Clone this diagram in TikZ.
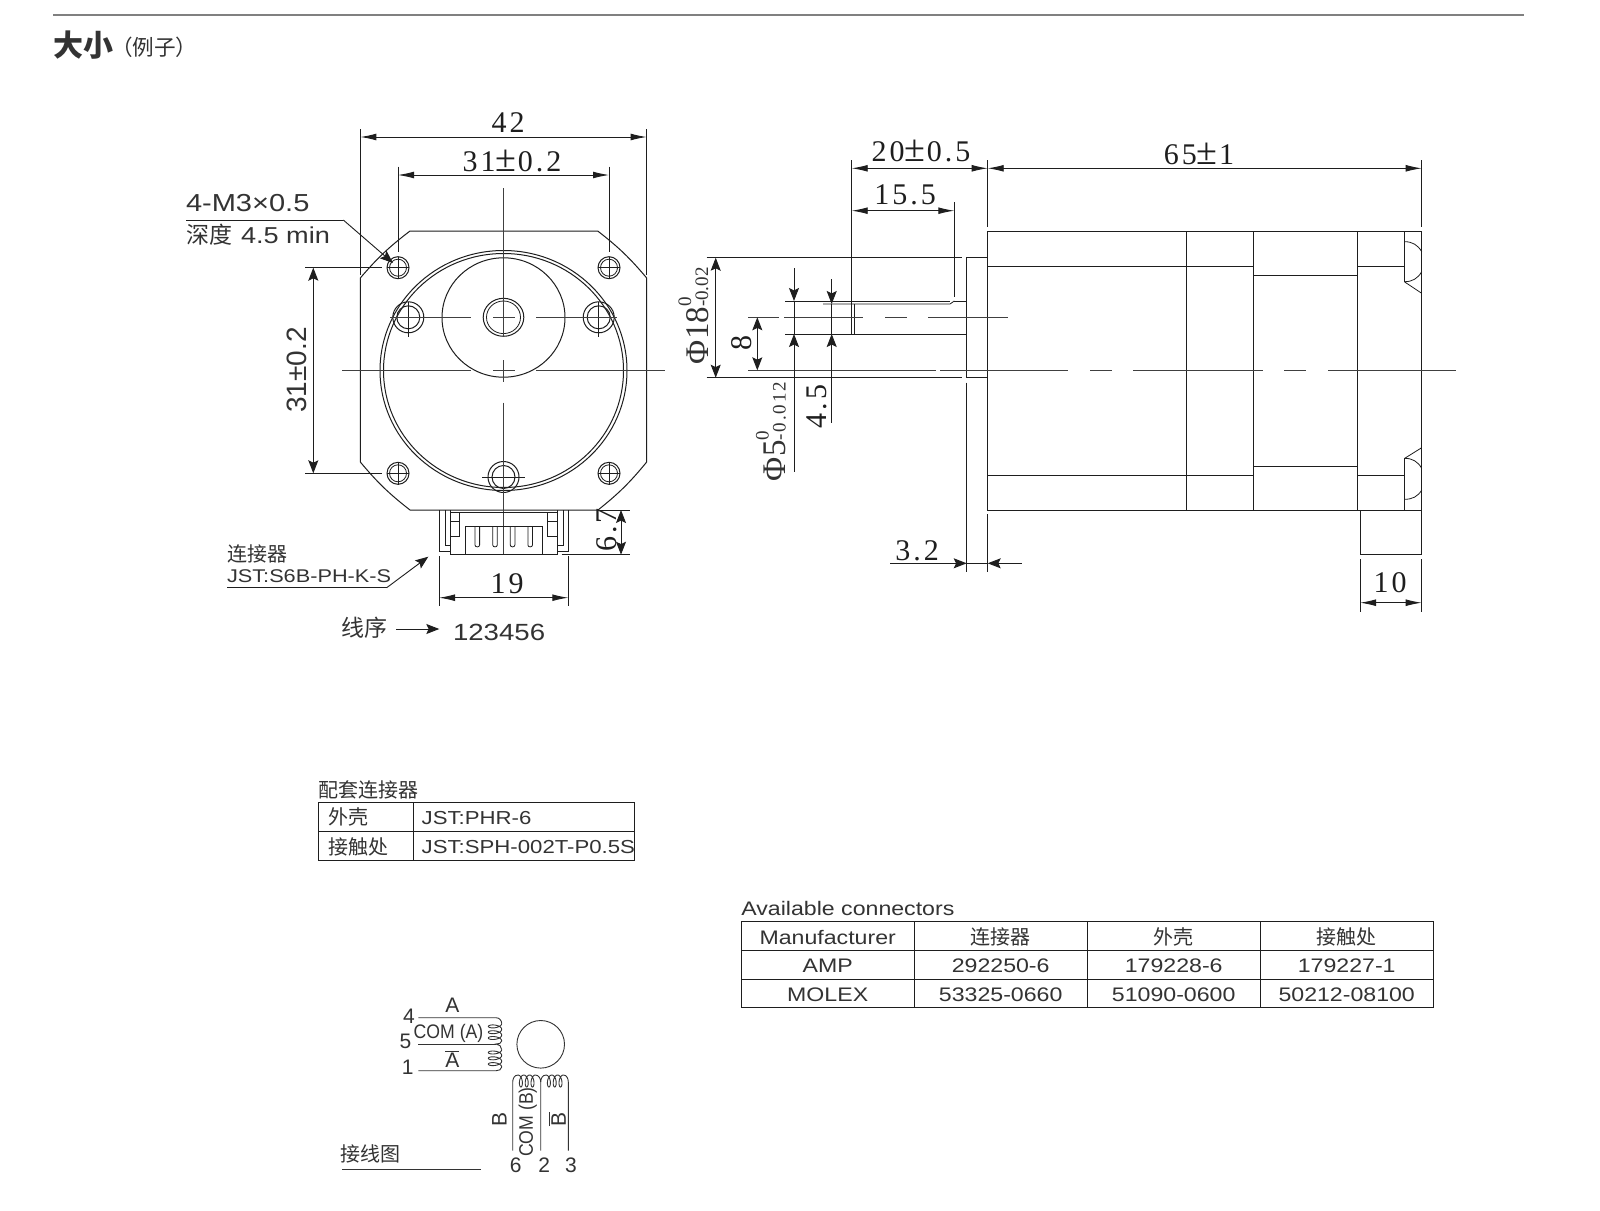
\documentclass[tikz,border=0pt]{standalone}
\usepackage{fontspec}
\usetikzlibrary{arrows.meta}
\setmainfont{Liberation Sans}
\newfontfamily\cjk{Noto Sans CJK SC}
\newfontfamily\sanw[FakeStretch=1.18]{Liberation Sans}
\newfontfamily\sann{Liberation Sans}
\newfontfamily\sanc[FakeStretch=0.9]{Liberation Sans}
\newfontfamily\serd[LetterSpace=10]{Liberation Serif}
\newfontfamily\serp{Liberation Serif}
\newcommand\fsz[1]{\fontsize{#1}{#1}\selectfont}
\newcommand\dimtxt{\serd\fsz{15}}
\newcommand\pmw{{\serp\fsz{19}±}\hspace{0.6pt}}
\newcommand\tolr[3]{{\serp\fsz{16.5}#1}{\serd\fsz{9.5}\rlap{\raisebox{8.5pt}{#2}}#3}}
\newcommand\ovb[1]{\setbox0\hbox{#1}\rlap{\rule[8pt]{\wd0}{0.45pt}}#1}
\definecolor{ink}{HTML}{1E1E1E}
\definecolor{txt}{HTML}{333333}
\tikzset{
 every node/.style={inner sep=0pt,outer sep=0pt,text=txt},
 part/.style={draw=ink,line width=0.5pt},
 thinln/.style={draw=ink,line width=0.4pt},
 cl/.style={draw=ink!85,line width=0.4pt},
 longhead/.tip={Latex[length=8pt,width=3.4pt]},
 shorthead/.tip={Stealth[length=6.5pt,width=5pt,inset=1.2pt]},
 dimline/.style={draw=ink,line width=0.45pt,longhead-longhead},
 dimv/.style={draw=ink,line width=0.45pt,shorthead-shorthead},
 tip/.style={draw=ink,line width=0.45pt,-shorthead},
 dimnum/.style={font=\dimtxt,text=ink},
 lab/.style={font=\sanw\fsz{11.5}},
 cell/.style={font=\sanw\fsz{9.8}},
 cjkcell/.style={font=\cjk\fsz{10}},
 rowline/.style={draw=ink,line width=0.5pt},
 wire/.style={draw=txt,line width=0.45pt},
 wlab/.style={font=\sann\fsz{10.5}},
 wcom/.style={font=\sanc\fsz{9.8}},
}
\begin{document}
\begin{tikzpicture}[x=0.5pt,y=-0.5pt]
\useasboundingbox (0,0) rectangle (1600,1210);
\fill[white] (0,0) rectangle (1600,1210);
% heading
\draw[draw=black!50,line width=0.75pt] (53,15) -- (1524,15);
\node[anchor=west,font=\cjk\bfseries\fsz{15}] (head) at (53,45) {大小};
\node[anchor=west,font=\cjk\fsz{10.8}] (headb) at (111,47) {（例子）};
% ===== front view =====
\draw[part] (410,231) -- (597.7,231) to[bend left=6] (646.7,278) -- (646.7,462) to[bend left=6] (598,510) -- (410,510) to[bend left=6] (360.3,462) -- (360.3,278) to[bend left=6] cycle;
\draw[part] (503.5,370.5) ellipse (123.5 and 120);
\draw[part] (503.5,370.5) ellipse (120 and 117);
\draw[part] (503.5,317.5) ++(-61.5,0) arc[start angle=180,end angle=-180,x radius=61.5,y radius=59.7];
\draw[part] (503.5,317.3) ellipse (20.3 and 19);
\draw[thinln] (503.5,317.3) ellipse (17 and 16.3);
\foreach \hx/\hy in {398/267.7,609/267.7,398/473.3,609/473.3}{
 \draw[part] (\hx,\hy) circle (11);
 \draw[thinln] (\hx,\hy) circle (8.5);
 \draw[thinln] (\hx-11,\hy) -- (\hx+11,\hy);
}
\foreach \hx/\hy in {408.3/317.3,598.7/317.3,503.5/477}{
 \draw[part] (\hx,\hy) circle (15.5);
 \draw[part] (\hx,\hy) circle (11.5);
}
\draw[thinln] (398,256.7) -- (398,279);
\draw[thinln] (609,256.7) -- (609,279);
\draw[thinln] (398,463) -- (398,485);
\draw[thinln] (609,463) -- (609,485);
\draw[thinln] (408.3,301.7) -- (408.3,337);
\draw[thinln] (598.7,301.7) -- (598.7,337);
\draw[thinln] (482,477) -- (525,477);
% centre lines
\draw[cl] (503.5,188) -- (503.5,337);
\draw[cl] (503.5,360) -- (503.5,381.7);
\draw[cl] (503.5,402.7) -- (503.5,554);
\draw[cl] (342.3,370) -- (471,370);
\draw[cl] (493,370) -- (515,370);
\draw[cl] (536,370) -- (665,370);
\draw[cl] (390,317.3) -- (471,317.3);
\draw[cl] (493,317.3) -- (515,317.3);
\draw[cl] (536,317.3) -- (617,317.3);
% front dims
\draw[thinln] (360.3,129) -- (360.3,275);
\draw[thinln] (646.7,129) -- (646.7,275);
\draw[dimline] (360.3,137) -- (646.7,137);
\node[dimnum] (d42) at (508,123) {42};
\draw[thinln] (398,166.7) -- (398,251.7);
\draw[thinln] (609,166.7) -- (609,251.7);
\draw[dimline] (398,175) -- (609,175);
\node[dimnum] (d31a) at (512,161) {31\pmw0.2};
\draw[thinln] (305,267.7) -- (381.7,267.7);
\draw[thinln] (305,473.3) -- (381.7,473.3);
\draw[dimv] (313.3,267.7) -- (313.3,473.3);
\node[rotate=90,font=\sann\fsz{14}] (d31b) at (297,370) {31±0.2};
% hole leader
\node[anchor=base west,font=\sanw\fsz{12.3}] (hole1) at (186,211.7) {4-M3×0.5};
\node[anchor=base west,font=\cjk\fsz{11.5}] (hole2) at (186,243) {深度};
\node[anchor=base west,lab] (hole3) at (241,243) {4.5 min};
\coordinate (holeknee) at (343.3,220);
\coordinate (holetip) at (393,263);
\draw[thinln] (186,220) -- (holeknee);
\draw[tip] (holeknee) -- (holetip);
% connector
\draw[part] (450,512) -- (557.3,512);
\draw[part] (450,510) -- (450,554.6) -- (557.3,554.6) -- (557.3,510);
\draw[part] (439,510) -- (439,551.7) -- (450,551.7);
\draw[part] (568.3,510) -- (568.3,551.7) -- (557.3,551.7);
\draw[thinln] (445,510) -- (445,545) -- (450,545);
\draw[thinln] (563.3,510) -- (563.3,545) -- (557.3,545);
\draw[thinln] (450,521.7) -- (459.3,521.7) -- (459.3,536.7) -- (450,536.7);
\draw[thinln] (459.3,512) -- (459.3,521.7);
\draw[thinln] (557.3,521.7) -- (547.3,521.7) -- (547.3,536.7) -- (557.3,536.7);
\draw[thinln] (547.3,512) -- (547.3,521.7);
\draw[part] (465,554.6) -- (465,526) -- (542.7,526) -- (542.7,554.6);
\foreach \px in {475,492.7,510.3,527.9}{
 \draw[thinln] (\px,526) -- (\px,545) to[out=-90,in=-90,looseness=1.4] (\px+4.6,545) -- (\px+4.6,526);
}
\draw[thinln] (598,510) -- (630,510);
\draw[thinln] (561.7,554.7) -- (630,554.7);
\draw[dimv] (621,510) -- (621,554.7);
\node[dimnum,rotate=90] (d67) at (606.7,530) {6.7};
\draw[thinln] (439,556) -- (439,606);
\draw[thinln] (568.3,556) -- (568.3,606);
\draw[dimline] (439,597.7) -- (568.3,597.7);
\node[dimnum] (d19) at (507,584) {19};
\node[anchor=base west,font=\cjk\fsz{10}] (conn1) at (227,561.7) {连接器};
\node[anchor=base west,font=\sanw\fsz{9.2}] (conn2) at (227,582.7) {JST:S6B-PH-K-S};
\coordinate (connknee) at (386.7,587.7);
\coordinate (conntip) at (428.3,556.7);
\draw[thinln] (227,587.7) -- (connknee);
\draw[tip] (connknee) -- (conntip);
\node[anchor=west,font=\cjk\fsz{11.5}] (order) at (341.7,627.7) {线序};
\node[anchor=base west,font=\sanw\fsz{11.7}] (nums) at (453,640) {123456};
\coordinate (ordera) at (396,629);
\coordinate (orderb) at (439.3,629);
\draw[tip] (ordera) -- (orderb);
% ===== side view =====
\draw[part] (987.7,231) rectangle (1421.7,510);
\foreach \dx in {1186,1253.3,1357.7}{\draw[part] (\dx,231) -- (\dx,510);}
\draw[part] (987.7,266.3) -- (1253.3,266.3);
\draw[part] (1253.3,275.3) -- (1357.7,275.3);
\draw[part] (1357.7,266.3) -- (1404.7,266.3);
\draw[part] (987.7,475) -- (1253.3,475);
\draw[part] (1253.3,466) -- (1357.7,466);
\draw[part] (1357.7,475) -- (1404.7,475);
\draw[part] (1404.7,231) -- (1404.7,282);
\draw[part] (1404.7,458.3) -- (1404.7,510);
\draw[thinln] (1404.7,241.7) to[out=0,in=120] (1421.7,251.7);
\draw[thinln] (1404.7,281.7) to[out=0,in=-120] (1421.7,271.7);
\draw[thinln] (1404.7,282) -- (1421.7,293.3);
\draw[thinln] (1404.7,458.3) -- (1421.7,447.7);
\draw[thinln] (1404.7,458.3) to[out=0,in=120] (1421.7,468.3);
\draw[thinln] (1404.7,499.3) to[out=0,in=-120] (1421.7,490);
\draw[part] (1360,510) -- (1360,554.3) -- (1421.7,554.3) -- (1421.7,510);
% flange and shaft
\draw[part] (706.7,257.7) -- (962.3,257.7);
\draw[part] (706.7,377.7) -- (962.3,377.7);
\draw[part] (987.7,257.7) -- (966.7,257.7) -- (966.7,377.7) -- (987.7,377.7);
\draw[part] (966.7,382.7) -- (966.7,571.7);
\draw[part] (987.7,514) -- (987.7,571.7);
\draw[part] (785,301) -- (950,301);
\draw[part] (954.3,301) -- (966.7,301);
\draw[thinln] (823,304) -- (950,304) -- (954.3,301);
\draw[part] (785,334) -- (966.7,334);
\draw[part] (851.7,160) -- (851.7,334);
\draw[thinln] (854.5,304) -- (854.5,334);
% centre lines side
\foreach \ca/\cb in {748.3/935.7,940/1067.7,1090/1111.7,1133/1262.7,1284.3/1306,1328.3/1456}{\draw[cl] (\ca,370.3) -- (\cb,370.3);}
\foreach \ca/\cb in {748.3/779.3,784/863.3,885/906.7,928.3/1007.7}{\draw[cl] (\ca,317.3) -- (\cb,317.3);}
% side dims
\draw[thinln] (987.7,160) -- (987.7,226.7);
\draw[thinln] (1421.7,160) -- (1421.7,226.7);
\draw[dimline] (851.7,168.3) -- (987.7,168.3);
\node[dimnum] (d20) at (921,151) {20\pmw0.5};
\draw[dimline] (987.7,168.3) -- (1421.7,168.3);
\node[dimnum] (d65) at (1199,154) {65\pmw1};
\draw[thinln] (954.3,202.3) -- (954.3,296.7);
\draw[dimline] (851.7,210.7) -- (954.3,210.7);
\node[dimnum] (d155) at (905,195) {15.5};
\draw[dimv] (715.7,257.7) -- (715.7,377.7);
\node[rotate=90,anchor=base west] (dphi18) at (708,364) {\tolr{Φ18}{0}{\serp -0.02}};
\draw[dimv] (757.3,317.3) -- (757.3,370.3);
\node[dimnum,rotate=90] (d8) at (741.7,343) {8};
\coordinate (p5a) at (794,268.3);
\coordinate (p5b) at (794,301);
\coordinate (p5c) at (794,334);
\coordinate (p5d) at (794,471.7);
\draw[tip] (p5a) -- (p5b);
\draw[thinln] (p5b) -- (p5c);
\draw[tip] (p5d) -- (p5c);
\node[rotate=90,anchor=base west] (dphi5) at (785.5,481) {\tolr{Φ5}{0}{-0.012}};
\coordinate (p4a) at (831.7,279.3);
\coordinate (p4b) at (831.7,304);
\coordinate (p4c) at (831.7,334);
\coordinate (p4d) at (831.7,422.7);
\draw[tip] (p4a) -- (p4b);
\draw[thinln] (p4b) -- (p4c);
\draw[tip] (p4d) -- (p4c);
\node[dimnum,rotate=90] (d45) at (816.7,406.7) {4.5};
% 3.2
\coordinate (t1) at (890,563.3);
\coordinate (t2) at (966.7,563.3);
\coordinate (t3) at (1021.7,563.3);
\coordinate (t4) at (987.7,563.3);
\draw[tip] (t1) -- (t2);
\draw[tip] (t3) -- (t4);
\draw[thinln] (t2) -- (t4);
\node[dimnum] (d32) at (917,550.7) {3.2};
% 10
\draw[thinln] (1360,559) -- (1360,611.7);
\draw[thinln] (1421.7,559) -- (1421.7,611.7);
\draw[dimline] (1360,602.7) -- (1421.7,602.7);
\node[dimnum] (d10) at (1390,583) {10};
% ===== table 1 =====
\node[anchor=west,font=\cjk\fsz{10}] (t1title) at (318.3,790) {配套连接器};
\draw[rowline] (318.3,802.7) rectangle (634,860);
\draw[rowline] (318.3,831.7) -- (634,831.7);
\draw[rowline] (413.3,802.7) -- (413.3,860);
\node[anchor=west,cjkcell] (t1a) at (328.3,817.3) {外壳};
\node[anchor=west,font=\sanw\fsz{9.4}] (t1b) at (421.7,817.8) {JST:PHR-6};
\node[anchor=west,cjkcell] (t1c) at (328.3,846.5) {接触处};
\node[anchor=west,font=\sanw\fsz{9.4}] (t1d) at (421.7,847) {JST:SPH-002T-P0.5S};
% ===== table 2 =====
\node[anchor=west,cell] (t2title) at (741.4,908.5) {Available connectors};
\draw[rowline] (741.4,921) rectangle (1433,1007.7);
\draw[rowline] (741.4,950) -- (1433,950);
\draw[rowline] (741.4,979) -- (1433,979);
\foreach \vx in {914.5,1087,1260.4}{\draw[rowline] (\vx,921) -- (\vx,1007.7);}
\node[cell] (c11) at (827.7,937) {Manufacturer};
\node[cjkcell] (c12) at (1000.7,937) {连接器};
\node[cjkcell] (c13) at (1173.7,937) {外壳};
\node[cjkcell] (c14) at (1346.7,937) {接触处};
\node[cell] (c21) at (827.7,966) {AMP};
\node[cell] (c22) at (1000.7,966) {292250-6};
\node[cell] (c23) at (1173.7,966) {179228-6};
\node[cell] (c24) at (1346.7,966) {179227-1};
\node[cell] (c31) at (827.7,995) {MOLEX};
\node[cell] (c32) at (1000.7,995) {53325-0660};
\node[cell] (c33) at (1173.7,995) {51090-0600};
\node[cell] (c34) at (1346.7,995) {50212-08100};
% ===== wiring =====
\draw[wire] (540.7,1044.3) circle (23.8);
\draw[wire] (418.3,1017.7) -- (496,1017.7) to[out=0,in=90] (501.7,1023.5);
\draw[wire] (418.3,1044) -- (496,1044);
\draw[wire] (418.3,1070.7) -- (496,1070.7) to[out=0,in=-90] (501.7,1067);
\draw[wire] plot[smooth,domain=0:1080,samples=73] ({495+6.7*cos(\x)},{1023.5+\x/360*5.8+2.8*sin(\x)});
\draw[wire] (501.7,1040.9) to[out=-90,in=0] (496,1044) to[out=0,in=90] (501.7,1049.6);
\draw[wire] plot[smooth,domain=0:1080,samples=73] ({495+6.7*cos(\x)},{1049.6+\x/360*5.8+2.8*sin(\x)});
\draw[wire] (512.7,1150.7) -- (512.7,1082) to[out=90,in=180] (518,1075);
\draw[wire] (540.7,1150.7) -- (540.7,1082) to[out=90,in=0] (535.4,1075);
\draw[wire] (540.7,1082) to[out=90,in=180] (546,1075);
\draw[wire] (568.3,1150.7) -- (568.3,1082) to[out=90,in=0] (563.4,1075);
\draw[wire] plot[smooth,domain=0:1080,samples=73] ({518+\x/360*5.8+2.8*sin(\x)},{1081-6*cos(\x)});
\draw[wire] plot[smooth,domain=0:1080,samples=73] ({546+\x/360*5.8+2.8*sin(\x)},{1081-6*cos(\x)});
\node[wlab] (w4) at (409,1016.7) {4};
\node[wlab] (w5) at (405.5,1041.7) {5};
\node[wlab] (w1) at (407.7,1067.3) {1};
\node[wlab] (wA) at (452.3,1005.7) {A};
\node[wcom] (wcoma) at (448.5,1033) {COM (A)};
\node[wlab] (wAb) at (452.3,1059.3) {\ovb{A}};
\node[wlab,rotate=90] (wB) at (499.3,1119.3) {B};
\node[wcom,rotate=90] (wcomb) at (527.7,1122) {COM (B)};
\node[wlab,rotate=90] (wBb) at (557.3,1119) {\ovb{B}};
\node[wlab] (w6) at (515.7,1165.5) {6};
\node[wlab] (w2) at (544.3,1165.5) {2};
\node[wlab] (w3) at (571,1165.5) {3};
\node[anchor=west,font=\cjk\fsz{10}] (wtitle) at (340,1154) {接线图};
\draw[wire] (342,1169.3) -- (480.7,1169.3);
\end{tikzpicture}
\end{document}
